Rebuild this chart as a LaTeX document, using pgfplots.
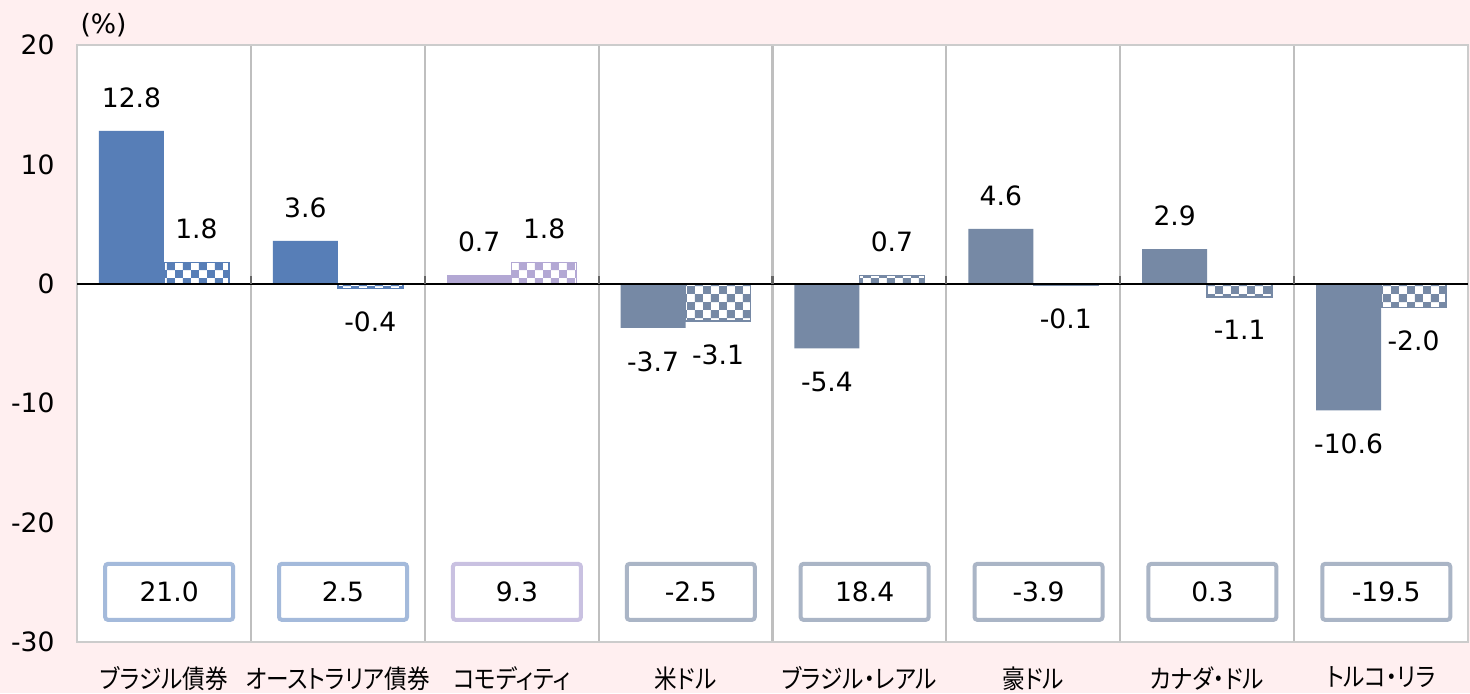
\documentclass[border=0pt]{standalone}
\usepackage{pgfplots}
\pgfplotsset{compat=1.18}
\usepackage{fontspec}
\setmainfont{DejaVu Sans}
\newfontfamily\jp[RawFeature=+palt, FakeStretch=0.88]{Noto Sans CJK JP}
\usetikzlibrary{patterns}
\definecolor{bgpink}{HTML}{FFEFF0}
\definecolor{cblue}{HTML}{577EB7}
\definecolor{clav}{HTML}{B3A8D4}
\definecolor{cgray}{HTML}{7689A5}
\definecolor{bblue}{HTML}{A4BADB}
\definecolor{blav}{HTML}{C9C1E1}
\definecolor{bgray}{HTML}{AAB5C6}
\pgfdeclarepatternformonly{mycheck}{\pgfpointorigin}{\pgfqpoint{5.6pt}{5.6pt}}{\pgfqpoint{5.6pt}{5.6pt}}{%
  \pgfpathrectangle{\pgfpointorigin}{\pgfqpoint{2.8pt}{2.8pt}}%
  \pgfpathrectangle{\pgfqpoint{2.8pt}{2.8pt}}{\pgfqpoint{2.8pt}{2.8pt}}%
  \pgfusepath{fill}}
\def\px{0.35pt}
\pgfplotsset{
  lbl/.style={nodes near coords, point meta=explicit symbolic,
    every node near coord/.append style={anchor=#1}},
  solidbar/.style={ybar, bar width=65*\px, bar shift=-32.5*\px, fill=#1, draw=none,
    every node near coord/.append style={xshift=-32.5*\px}},
  checkbar/.style={ybar, bar width=65*\px, bar shift=32.5*\px, fill=white, draw=#1, line width=0.5pt,
    postaction={pattern=mycheck, pattern color=#1},
    every node near coord/.append style={xshift=32.5*\px}},
  valbox/.style={only marks, mark=none, nodes near coords, point meta=explicit symbolic,
    every node near coord/.style={anchor=center, draw=#1, line width=1.4pt, rounded corners=1pt, fill=white,
      minimum width=128*\px, minimum height=56*\px, inner sep=0pt, font=\fontsize{9.3}{10}\selectfont, text=black}},
}
\begin{document}
\begin{tikzpicture}
\path[use as bounding box, fill=bgpink] (-77*\px,-51*\px) rectangle (1393*\px,642*\px);
\begin{axis}[
  scale only axis,
  width=1391*\px, height=597*\px,
  xmin=-0.5, xmax=7.5, ymin=-30, ymax=20,
  axis background/.style={fill=white},
  axis line style={draw=black!20, line width=0.6pt},
  major tick length=0, minor tick length=0,
  ytick={-30,-20,-10,0,10,20},
  yticklabels={-30,-20,-10,0,10,20},
  yticklabel style={inner xsep=0pt, xshift=-7.7pt, font=\fontsize{9.3}{10}\selectfont},
  xtick={0,...,7},
  xticklabels={ブラジル債券,オーストラリア債券,コモディティ,米ドル,ブラジル・レアル,豪ドル,カナダ・ドル,トルコ・リラ},
  xticklabel style={anchor=north, inner sep=0pt, yshift=-8.5pt, font=\jp\fontsize{9}{10}\selectfont},
  minor xtick={0.5,1.5,...,6.5},
  minor x grid style={draw=black!25, line width=0.75pt},
  xminorgrids=true,
  every node near coord/.append style={font=\fontsize{9.3}{10}\selectfont, inner ysep=8pt, inner xsep=1pt, text=black},
  clip=false,
]
% solid bars
\addplot[solidbar=cblue, lbl=south] coordinates {(0,12.8) [12.8] (1,3.6) [3.6]};
\addplot[solidbar=clav, lbl=south] coordinates {(2,0.7) [0.7]};
\addplot[solidbar=cgray, lbl=south] coordinates {(5,4.6) [4.6] (6,2.9) [2.9]};
\addplot[solidbar=cgray, lbl=north] coordinates {(3,-3.7) [-3.7] (4,-5.4) [-5.4] (7,-10.6) [-10.6]};
% checkered bars
\addplot[checkbar=cblue, lbl=south] coordinates {(0,1.8) [1.8]};
\addplot[checkbar=cblue, lbl=north] coordinates {(1,-0.4) [-0.4]};
\addplot[checkbar=clav, lbl=south] coordinates {(2,1.8) [1.8]};
\addplot[checkbar=cgray, lbl=south] coordinates {(4,0.7) [0.7]};
\addplot[checkbar=cgray, lbl=north] coordinates {(3,-3.1) [-3.1] (5,-0.1) [-0.1] (6,-1.1) [-1.1] (7,-2.0) [-2.0]};
% boxes
\addplot[valbox=bblue] coordinates {(0.03,-25.8) [21.0] (1.03,-25.8) [2.5]};
\addplot[valbox=blav] coordinates {(2.03,-25.8) [9.3]};
\addplot[valbox=bgray] coordinates {(3.03,-25.8) [-2.5] (4.03,-25.8) [18.4] (5.03,-25.8) [-3.9] (6.03,-25.8) [0.3] (7.03,-25.8) [-19.5]};
\draw[black, line width=0.5pt] (axis cs:-0.5,0) -- (axis cs:7.5,0);
\foreach \xx in {0.5,1.5,...,6.5} {
  \edef\tmp{\noexpand\draw[black!60, line width=0.75pt] (axis cs:\xx,0) -- ([yshift=2.8pt]axis cs:\xx,0);}\tmp
}
\node[anchor=west, inner sep=0pt, font=\fontsize{9.3}{10}\selectfont] at ([xshift=3*\px, yshift=20*\px]rel axis cs:0,1) {(\%)};
\end{axis}
\end{tikzpicture}
\end{document}
